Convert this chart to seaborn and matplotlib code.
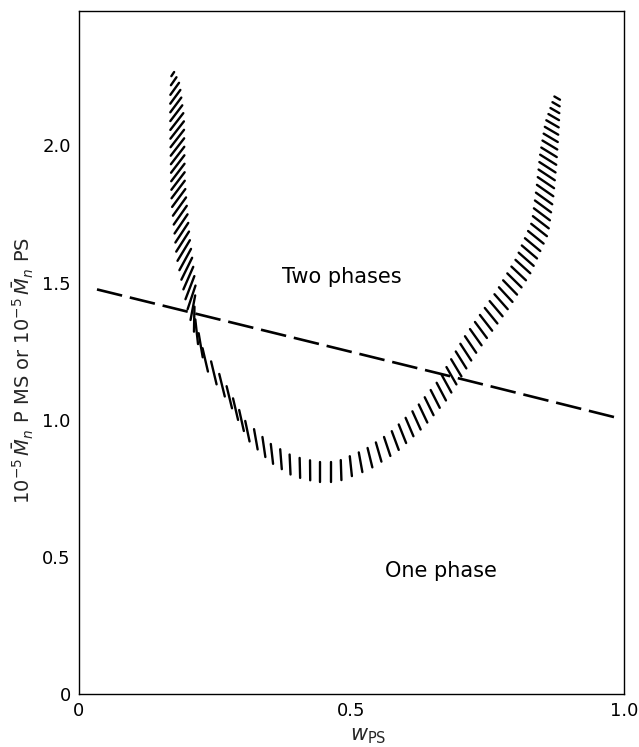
import numpy as np
import matplotlib
matplotlib.use("Agg")
import matplotlib.pyplot as plt
import seaborn as sns
import pandas as pd
from matplotlib.collections import LineCollection

# ---------------- data ----------------
x_ticks = [0, 0.5, 1.0]
x_tick_labels = ["0", "0.5", "1.0"]
y_ticks = [0, 0.5, 1.0, 1.5, 2.0]
y_tick_labels = ["0", "0.5", "1.0", "1.5", "2.0"]

# dashed line (critical molecular weight)
dash_x = [0.033, 0.672, 0.987]
dash_y = [1.475, 1.163, 1.007]

# centre line of the hatched two-phase boundary band
band_x = [0.172, 0.176, 0.180, 0.182, 0.191, 0.207, 0.213, 0.231, 0.271, 0.308,
          0.350, 0.393, 0.436, 0.473, 0.528, 0.576, 0.626, 0.668, 0.717, 0.778,
          0.815, 0.846, 0.855, 0.861, 0.868, 0.879]
band_y = [2.26, 2.20, 2.07, 1.83, 1.63, 1.44, 1.34, 1.22, 1.10, 0.96,
          0.88, 0.83, 0.81, 0.81, 0.854, 0.916, 1.01, 1.11, 1.27, 1.44,
          1.56, 1.70, 1.83, 1.95, 2.07, 2.19]

# hatch stroke style along the band (orientation deg, length px, spacing px)
hatch_angle = [56, 54, 52, 53, 58, 72, 95, 103, 104, 102,
               97, 92, 90, 90, 103, 110, 115, 118, 124, 132,
               138, 142, 145, 148, 150, 150]
hatch_len = [5, 16, 22, 22, 24, 25, 25, 24, 23, 21,
             20, 20, 20, 20, 20, 20, 20, 20, 20, 20,
             20, 20, 20, 19, 15, 5]
hatch_gap = [7, 8, 8.5, 8.5, 9, 10, 13, 16, 14, 12,
             10.5, 10.5, 10.5, 10.5, 10.5, 10, 9.5, 9.5, 9, 8.5,
             8, 8, 8, 7.5, 7, 6]

labels_text = ["Two phases", "One phase"]
labels_xy = [(0.483, 1.52), (0.664, 0.45)]

# ---------------- figure ----------------
sns.set_style("white")
plt.rcParams["font.family"] = ["DejaVu Sans"]

W, H = 639, 747
fig = plt.figure(figsize=(W / 100, H / 100), dpi=100)
L, R, T, B = 79, 624, 11, 694
ax = fig.add_axes([L / W, 1 - B / H, (R - L) / W, (B - T) / H])
ax.set_xlim(0, 1.0)
ax.set_ylim(0, 2.49)

# dashed line via seaborn
df_dash = pd.DataFrame({"x": dash_x, "y": dash_y})
sns.lineplot(data=df_dash, x="x", y="y", ax=ax, color="black", lw=1.9,
             dashes=False, sort=False, estimator=None)
ax.lines[-1].set_dashes((9.8, 3.0))

# hatched band
pts = ax.transData.transform(np.column_stack([band_x, band_y]))
seg = np.hypot(*np.diff(pts, axis=0).T)
s = np.concatenate([[0], np.cumsum(seg)])
fine = np.linspace(0, s[-1], 4000)
gap = np.interp(fine, s, hatch_gap)
u = np.concatenate([[0], np.cumsum(np.diff(fine) / gap[:-1])])
n = int(np.floor(u[-1]))
s_k = np.interp(np.arange(n + 1), u, fine)
cx = np.interp(s_k, s, pts[:, 0])
cy = np.interp(s_k, s, pts[:, 1])
ang = np.deg2rad(np.interp(s_k, s, hatch_angle))
ln = np.interp(s_k, s, hatch_len)
p0 = np.column_stack([cx - ln / 2 * np.cos(ang), cy - ln / 2 * np.sin(ang)])
p1 = np.column_stack([cx + ln / 2 * np.cos(ang), cy + ln / 2 * np.sin(ang)])
inv = ax.transData.inverted()
segs = np.stack([inv.transform(p0), inv.transform(p1)], axis=1)
ax.add_collection(LineCollection(segs, colors="black", linewidths=1.7,
                                 capstyle="round"))

# region labels
for txt, (tx, ty) in zip(labels_text, labels_xy):
    ax.text(tx, ty, txt, ha="center", va="center", fontsize=15, color="black")

# axes styling
for sp in ax.spines.values():
    sp.set_visible(True)
    sp.set_color("black")
    sp.set_linewidth(1.0)
ax.set_xticks(x_ticks)
ax.set_xticklabels(x_tick_labels)
ax.set_yticks(y_ticks)
ax.set_yticklabels(y_tick_labels)
ax.tick_params(direction="in", length=10, width=1.0, labelsize=13, pad=6,
               colors="black")

ax.set_xlabel(r"$w_{\rm PS}$", fontsize=15)
ax.xaxis.set_label_coords((368 - L) / (R - L), (B - 726) / (B - T))
ax.set_ylabel(r"$10^{-5}\,\bar{M}_n$ P MS or $10^{-5}\,\bar{M}_n$ PS", fontsize=14)
ax.yaxis.set_label_coords((36 - L) / (R - L), (B - 370) / (B - T))

fig.savefig("out.png", dpi=100)
